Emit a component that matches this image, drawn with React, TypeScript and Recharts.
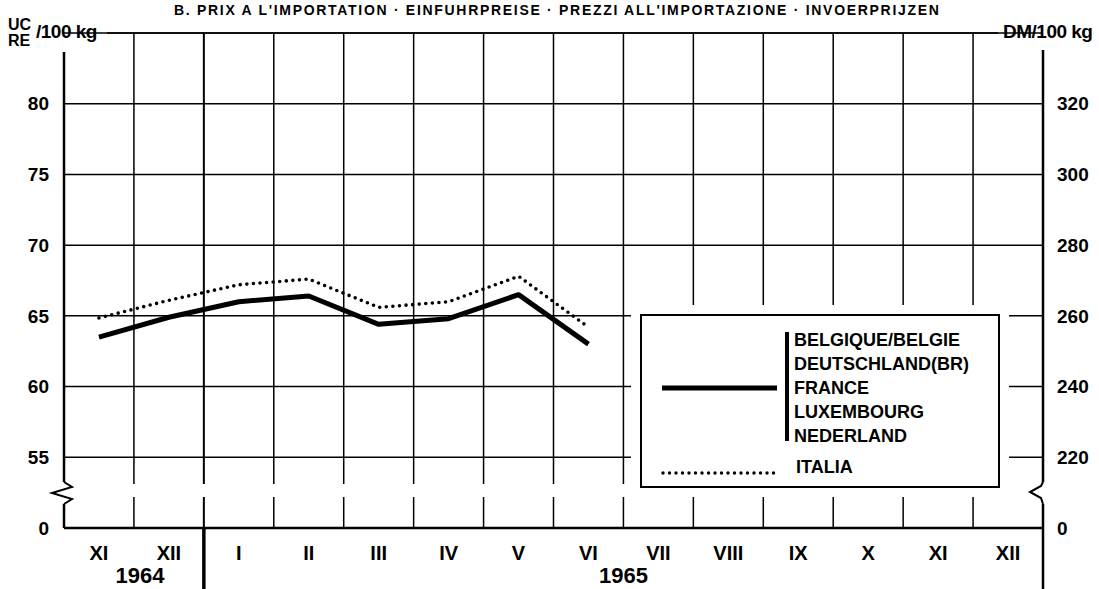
import React from 'react';
import { LineChart, Line, XAxis, YAxis, CartesianGrid, ReferenceLine } from 'recharts';

// ---- data ----
const months = ['XI', 'XII', 'I', 'II', 'III', 'IV', 'V', 'VI', 'VII', 'VIII', 'IX', 'X', 'XI', 'XII'];
const yearLabels = ['1964', '1965'];
const beneluxValues = [63.5, 64.9, 66.0, 66.4, 64.4, 64.8, 66.5, 63.0];
const italiaValues = [64.85, 66.1, 67.2, 67.6, 65.6, 66.0, 67.8, 64.2];
const leftTickValues = [50, 55, 60, 65, 70, 75, 80];
const leftTickLabels = ['0', '55', '60', '65', '70', '75', '80'];
const rightTickLabels = ['0', '220', '240', '260', '280', '300', '320'];
const legendSolidLabels = ['BELGIQUE/BELGIE', 'DEUTSCHLAND(BR)', 'FRANCE', 'LUXEMBOURG', 'NEDERLAND'];
const legendDottedLabel = 'ITALIA';
const title = "B.  PRIX A L'IMPORTATION  ·  EINFUHRPREISE  ·  PREZZI ALL'IMPORTAZIONE   ·   INVOERPRIJZEN";

const data = beneluxValues.map((v, i) => ({ x: i + 0.5, benelux: v, italia: italiaValues[i] }));
const labelTicks = months.map((_, i) => i + 0.5);
const boundaries = months.slice(1).map((_, i) => i + 1);

// ---- layout ----
const W = 1099;
const H = 589;
const L = 64;
const R = 1043;
const T = 33;
const B = 528;
const FONT = '"Liberation Sans", Arial, Helvetica, sans-serif';
const xFor = (m: number) => L + (m * (R - L)) / months.length;

const tickStyle = { fill: '#000', fontSize: 19, fontWeight: 700, fontFamily: FONT };

export default function App() {
  return (
    <div style={{ position: 'absolute', left: 0, top: 0, width: W, height: H, background: '#fff' }}>
      <LineChart
        width={W}
        height={H}
        data={data}
        margin={{ top: T, right: 0, bottom: 0, left: 0 }}
      >
        <CartesianGrid yAxisId="left" vertical={false} stroke="#000" strokeWidth={1.5} />
        <XAxis
          dataKey="x"
          type="number"
          domain={[0, months.length]}
          ticks={labelTicks}
          interval={0}
          tickFormatter={(v: number) => months[Math.floor(v)]}
          height={H - B}
          tickLine={false}
          tickSize={0}
          tickMargin={18}
          axisLine={{ stroke: '#000', strokeWidth: 2.5 }}
          tick={{ ...tickStyle, fontSize: 20 }}
        />
        <YAxis
          yAxisId="left"
          domain={[50, 85]}
          ticks={leftTickValues}
          interval={0}
          allowDataOverflow
          tickFormatter={(v: number) => leftTickLabels[leftTickValues.indexOf(v)]}
          width={L}
          axisLine={false}
          tickLine={false}
          tickSize={0}
          tickMargin={15}
          tick={tickStyle}
        />
        <YAxis
          yAxisId="right"
          orientation="right"
          domain={[50, 85]}
          ticks={leftTickValues}
          interval={0}
          allowDataOverflow
          tickFormatter={(v: number) => rightTickLabels[leftTickValues.indexOf(v)]}
          width={W - R}
          axisLine={false}
          tickLine={false}
          tickSize={0}
          tickMargin={14}
          tick={tickStyle}
        />
        {boundaries.map((b) => (
          <ReferenceLine
            key={b}
            yAxisId="left"
            x={b}
            stroke="#000"
            strokeWidth={b === 2 ? 2 : 1.5}
          />
        ))}
        <Line
          yAxisId="left"
          dataKey="italia"
          stroke="#000"
          strokeWidth={3.6}
          strokeDasharray="0 6.6"
          strokeLinecap="round"
          dot={false}
          isAnimationActive={false}
        />
        <Line
          yAxisId="left"
          dataKey="benelux"
          stroke="#000"
          strokeWidth={5}
          strokeLinejoin="round"
          dot={false}
          isAnimationActive={false}
        />
      </LineChart>
      <svg
        width={W}
        height={H}
        style={{ position: 'absolute', left: 0, top: 0, pointerEvents: 'none' }}
        fontFamily={FONT}
        fontWeight={700}
      >
        {/* title */}
        <text x={174} y={15} fontSize={14} letterSpacing={1.7} fill="#000">{title}</text>
        {/* unit labels */}
        <text x={8} y={30} fontSize={16} fill="#000">UC</text>
        <text x={8} y={46} fontSize={16} fill="#000">RE</text>
        <text x={36} y={38} fontSize={19} fill="#000" letterSpacing={-0.5}>/100 kg</text>
        <text x={1003} y={38} fontSize={19} fill="#000" letterSpacing={-0.5}>DM/100 kg</text>
        {/* top frame line */}
        <line x1={107} y1={T} x2={998} y2={T} stroke="#000" strokeWidth={1.5} />
        {/* axes */}
        <line x1={L} y1={52} x2={L} y2={B} stroke="#000" strokeWidth={2.5} />
        <line x1={R} y1={50} x2={R} y2={H} stroke="#000" strokeWidth={2.5} />
        <line x1={xFor(2)} y1={B} x2={xFor(2)} y2={H} stroke="#000" strokeWidth={3.5} />
        {/* break */}
        <rect x={L + 2} y={484} width={R - L - 4} height={13} fill="#fff" />
        <rect x={L - 6} y={482} width={12} height={22} fill="#fff" />
        <rect x={R - 6} y={482} width={12} height={22} fill="#fff" />
        <path d={`M${L},482 L${L + 8},487 L${L - 12},493 L${L + 8},499 L${L},504`} fill="none" stroke="#000" strokeWidth={2} />
        <path d={`M${R},482 L${R - 2},486 L${R - 13},492 L${R - 2},498 L${R},504`} fill="none" stroke="#000" strokeWidth={2} />
        {/* years */}
        {yearLabels.map((y, i) => (
          <text
            key={y}
            x={i === 0 ? xFor(1) + 6 : xFor(8)}
            y={583}
            fontSize={22}
            textAnchor="middle"
            fill="#000"
          >
            {y}
          </text>
        ))}
        {/* legend */}
        <rect x={631} y={305} width={378} height={192} fill="#fff" />
        <rect x={641} y={315} width={358} height={172} fill="#fff" stroke="#000" strokeWidth={2} />
        <line x1={662} y1={388} x2={777} y2={388} stroke="#000" strokeWidth={5} />
        <line x1={787} y1={332} x2={787} y2={441} stroke="#000" strokeWidth={4} />
        {legendSolidLabels.map((t, i) => (
          <text key={t} x={794} y={346 + i * 24} fontSize={18} fill="#000">{t}</text>
        ))}
        <line x1={663} y1={473} x2={777} y2={473} stroke="#000" strokeWidth={3.4} strokeDasharray="0 6.5" strokeLinecap="round" />
        <text x={796} y={473} fontSize={18} fill="#000">{legendDottedLabel}</text>
      </svg>
    </div>
  );
}
